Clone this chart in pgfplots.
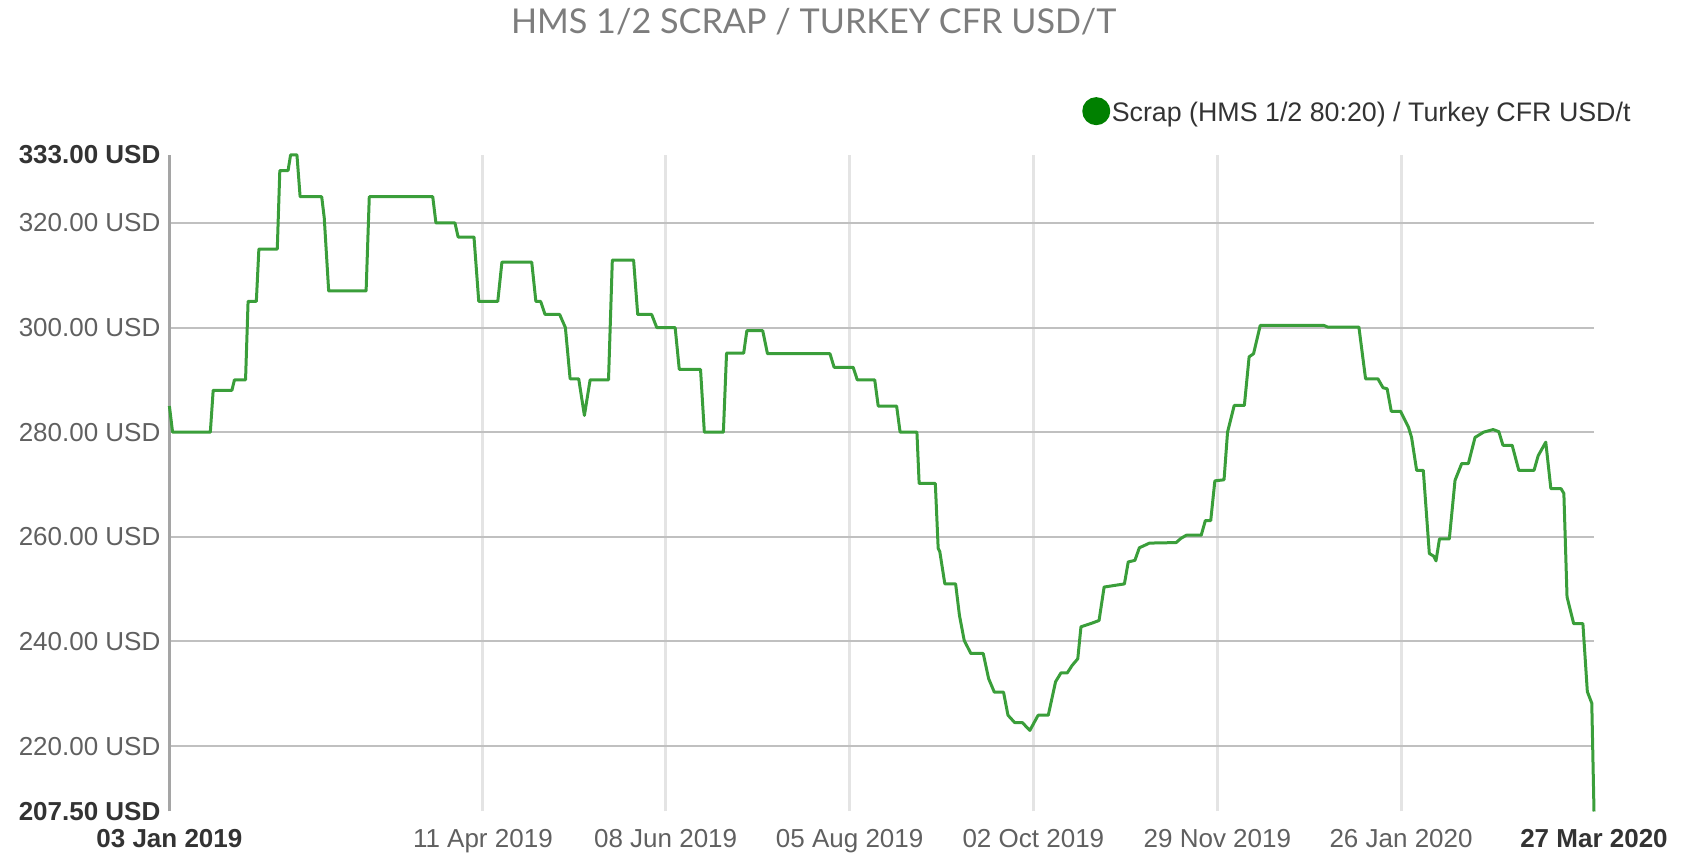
\documentclass[border=0pt]{standalone}
\usepackage{pgfplots}
\usepackage{pgfplotstable}
\pgfplotsset{compat=1.18}
\usepackage{fontspec}
\setmainfont{Liberation Sans}
\newfontfamily\titlefont{Lato}
\definecolor{linegreen}{RGB}{58,158,58}
\definecolor{dotgreen}{RGB}{0,128,0}
\definecolor{lblgray}{RGB}{96,96,96}
\definecolor{lbldark}{RGB}{51,51,51}
\definecolor{hgrid}{RGB}{192,192,192}
\definecolor{vgrid}{RGB}{228,228,228}
\definecolor{axgray}{RGB}{165,165,165}
\definecolor{titlegray}{RGB}{125,125,125}

\pgfplotstableread{
day price
0 285
1 280
12.9 280
13.8 288
19.7 288
20.5 290
24 290
24.8 305
27.4 305
28.2 315
34 315
34.8 330
37.4 330
38.2 333
40.2 333
41.2 325
48 325
48.8 321
50.2 307
62 307
63 325
83 325
84 320
90 320
91 317.3
96 317.3
97.5 305
103.5 305
104.8 312.5
114.2 312.5
115.5 305
117 305
118.4 302.5
123 302.5
124.8 300
126.3 290.2
129 290.2
130.8 283.2
132.6 290
138.4 290
139.6 312.9
146.3 312.9
147.6 302.5
152 302.5
153.6 300
159.4 300
160.7 292
167.4 292
168.6 280
174.6 280
175.6 295.1
181 295.1
182 299.4
187 299.4
188.5 295
208.2 295
209.5 292.4
215.5 292.4
216.8 290
222.3 290
223.4 285
229.2 285
230.3 280
235.6 280
236.3 270.2
241.4 270.2
242.3 257.8
242.8 257.2
244.4 251
247.8 251
249 245
250.5 240.2
252.6 237.7
256.5 237.7
258.2 232.9
260 230.3
262.9 230.3
264.3 225.9
266.4 224.5
268.8 224.5
271.2 223
273.8 225.9
277 225.9
279.3 232.3
281 234
283 234
284.5 235.4
286.3 236.7
287.3 242.8
290.3 243.4
293 244
294.6 250.4
301 251
302.2 255.2
304.3 255.5
305.7 257.9
308.9 258.8
317.3 258.9
318.8 259.7
320.5 260.3
325.2 260.3
326.5 263.1
328.2 263.1
329.5 270.7
332.4 270.9
333.5 280
335.6 285.1
338.8 285.1
340.3 294.4
341.7 295
343.8 300.4
363.9 300.4
365 300.1
374.9 300.1
377 290.2
380.9 290.2
382.5 288.5
383.8 288.3
385.1 284
388 284
390.5 281
391.5 279
393.1 272.7
395.2 272.7
397.1 256.8
398.5 256.3
399.2 255.4
400.3 259.6
403.4 259.6
405.2 270.8
407.3 274
409.4 274
411.5 279
414.2 280
417.2 280.5
419 280.1
420.3 277.5
423.2 277.5
425.3 272.7
430.1 272.7
431.4 275.5
433.8 278.1
435.4 269.2
438.6 269.2
439.5 268.3
440.5 248.5
442.6 243.4
445.5 243.4
446.9 230.4
448.3 228.2
449 207.5
}\scrap

\begin{document}
\begin{tikzpicture}
\path[use as bounding box] (-84.7pt,-21.75pt) rectangle (755.8pt,405.75pt);
\begin{axis}[
  at={(0pt,0pt)}, anchor=south west,
  scale only axis, width=712.3pt, height=328.3pt,
  xmin=0, xmax=449, ymin=207.5, ymax=333,
  axis lines=left, axis line style={-},
  x axis line style={draw=none},
  y axis line style={draw=axgray, line width=1.5pt},
  clip=false,
  xtick={98.8,156.4,214.4,272.3,330.3,388.2},
  xticklabels={11 Apr 2019,08 Jun 2019,05 Aug 2019,02 Oct 2019,29 Nov 2019,26 Jan 2020},
  extra x ticks={0,449},
  extra x tick labels={\textbf{03 Jan 2019},\textbf{27 Mar 2020}},
  extra x tick style={grid=none, xticklabel style={text=lbldark}},
  ytick={220,240,260,280,300,320},
  yticklabels={220.00 USD,240.00 USD,260.00 USD,280.00 USD,300.00 USD,320.00 USD},
  extra y ticks={207.5,333},
  extra y tick labels={\textbf{207.50 USD},\textbf{333.00 USD}},
  extra y tick style={grid=none, yticklabel style={text=lbldark}},
  xmajorgrids, ymajorgrids,
  x grid style={draw=vgrid, line width=1.6pt},
  y grid style={draw=hgrid, line width=1pt},
  major tick length=0pt,
  tick style={draw=none},
  tick label style={font=\fontsize{13}{15}\selectfont, text=lblgray},
  xticklabel style={anchor=base, inner sep=0pt, yshift=-18pt},
  yticklabel style={anchor=east, inner sep=0pt, xshift=-4.3pt},
  legend style={draw=none, fill=none, at={(axis description cs:0.6405,1.0666)}, anchor=west,
    inner sep=0pt, font=\fontsize{13.4}{15}\selectfont, text=lbldark,
    nodes={inner xsep=0.75pt, inner ysep=0pt},
    /tikz/every even column/.append style={column sep=0pt}},
  legend image code/.code={\fill[dotgreen] (6.25pt,1pt) circle (6.25pt);},
]
\addplot[linegreen, line width=1.5pt, line join=round] table[x=day, y=price] {\scrap};
\addlegendentry{Scrap (HMS 1/2 80:20) / Turkey CFR USD/t}
\end{axis}
\node[font=\titlefont\fontsize{17.1}{19}\selectfont, text=titlegray, anchor=base] at (322.1pt,389pt) {HMS 1/2 SCRAP / TURKEY CFR USD/T};
\end{tikzpicture}
\end{document}
